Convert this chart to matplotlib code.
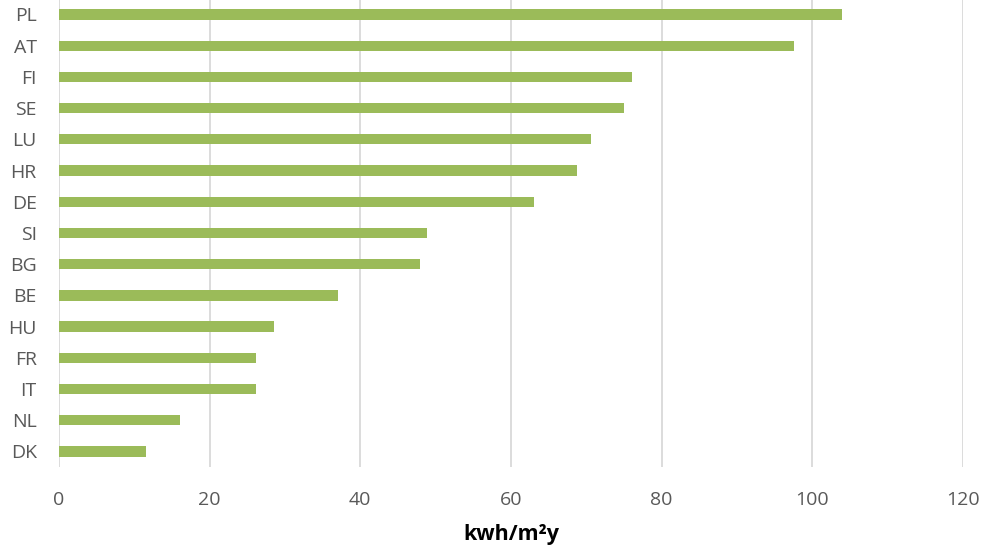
import matplotlib
matplotlib.use("Agg")
import matplotlib.pyplot as plt

countries = ["PL", "AT", "FI", "SE", "LU", "HR", "DE", "SI", "BG", "BE", "HU", "FR", "IT", "NL", "DK"]
values = [104.0, 97.6, 76.0, 75.0, 70.6, 68.8, 63.1, 48.8, 47.9, 37.0, 28.5, 26.2, 26.1, 16.1, 11.5]
xticks = [0, 20, 40, 60, 80, 100, 120]

plt.rcParams['font.family'] = ['Open Sans', 'DejaVu Sans']

fig = plt.figure(figsize=(9.82, 5.53), dpi=100)
ax = fig.add_axes([0.060, 0.1555, 0.9207, 0.8465])

ypos = list(range(len(countries)))[::-1]
ax.barh(ypos, values, height=0.33, color="#9BBB59", zorder=3)

ax.set_xlim(0, 120)
ax.set_ylim(-0.5, len(countries) - 0.5)
ax.set_xticks(xticks)
ax.set_yticks(ypos)
ax.set_yticklabels(countries)
ax.grid(axis="x", color="#D9D9D9", linewidth=1.3, zorder=0)
for s in ax.spines.values():
    s.set_visible(False)
ax.tick_params(length=0, labelsize=14, colors="#595959")
ax.tick_params(axis="x", pad=17)
ax.tick_params(axis="y", pad=16)
ax.set_xlabel("kwh/m²y", fontsize=15.5, fontweight="bold", color="#000000", labelpad=11)

fig.savefig("out.png", dpi=100)
